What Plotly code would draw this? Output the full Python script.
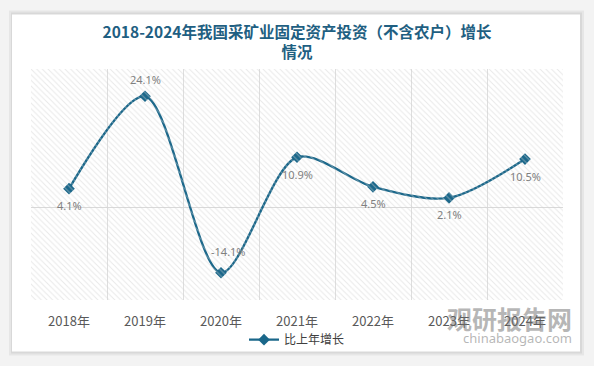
import plotly.graph_objects as go

years = ["2018年", "2019年", "2020年", "2021年", "2022年", "2023年", "2024年"]
growth = [4.1, 24.1, -14.1, 10.9, 4.5, 2.1, 10.5]
label_above = [False, True, True, False, False, False, False]
series_name = "比上年增长"
title_text = "2018-2024年我国采矿业固定资产投资（不含农户）增长<br>情况"

W, H = 594, 366
L, R, T, B = 31, 31, 69, 64
pw, ph = W - L - R, H - T - B

def px_x(x):
    return (x - L) / pw

def px_y(y):
    return (H - B - y) / ph

line_color = "#1a678a"
fig = go.Figure()

# hatch background of the plot area
fig.add_trace(go.Scatter(
    x=[0, 1, 1, 0, 0], y=[0, 0, 1, 1, 0], xaxis="x2", yaxis="y2",
    mode="lines", line=dict(width=0), fill="toself",
    fillcolor="rgba(0,0,0,0)",
    fillpattern=dict(shape="\\", fgcolor="#d2d2d2", bgcolor="rgba(0,0,0,0)",
                     size=4, solidity=0.25, fillmode="overlay"),
    hoverinfo="skip", showlegend=False))

fig.add_trace(go.Scatter(
    x=years, y=growth, name=series_name,
    mode="lines+markers",
    line=dict(color=line_color, width=2.4, shape="spline", smoothing=0.85),
    marker=dict(symbol="diamond", size=9, color=line_color),
    cliponaxis=False))

shapes = [
    dict(type="rect", xref="paper", yref="paper", layer="below",
         x0=px_x(9), x1=px_x(584), y0=px_y(358), y1=px_y(10),
         fillcolor="rgba(0,0,0,0.05)", line=dict(width=0)),
    dict(type="rect", xref="paper", yref="paper", layer="below",
         x0=px_x(11), x1=px_x(582), y0=px_y(356), y1=px_y(12),
         fillcolor="rgba(0,0,0,0.06)", line=dict(width=0)),
    dict(type="rect", xref="paper", yref="paper", layer="below",
         x0=px_x(12), x1=px_x(580), y0=px_y(354), y1=px_y(14),
         fillcolor="white", line=dict(width=0)),
]

annotations = []
for yr, v, above in zip(years, growth, label_above):
    annotations.append(dict(
        x=yr, y=v, xref="x", yref="y", text=f"{v}%", showarrow=False,
        yshift=(17 if above else -17) + (4 if v < 0 else 0),
        xshift=(7 if v < 0 else 0),
        font=dict(family="Noto Sans, sans-serif", size=11, color="#808080")))

annotations += [
    dict(text="<b>观研报告网</b>", xref="paper", yref="paper",
         x=px_x(574), y=px_y(320), xanchor="right", yanchor="middle",
         showarrow=False,
         font=dict(family="Noto Sans CJK SC", size=25, color="rgba(110,110,110,0.5)")),
    dict(text="chinabaogao.com", xref="paper", yref="paper",
         x=px_x(574), y=px_y(340), xanchor="right", yanchor="middle",
         showarrow=False,
         font=dict(family="Noto Sans, sans-serif", size=13, color="rgba(110,110,110,0.5)")),
]

fig.update_layout(
    width=W, height=H,
    margin=dict(l=L, r=R, t=T, b=B),
    paper_bgcolor="#f3f3f3", plot_bgcolor="white",
    title=dict(text=title_text, x=0.5, xanchor="center", y=1 - 38 / H,
               yanchor="top",
               font=dict(family="Noto Sans CJK SC", size=15.5, color="#1f5f82",
                         weight="bold")),
    xaxis=dict(type="category", tickson="boundaries", showgrid=True,
               gridcolor="#dedede", gridwidth=1, showline=False, ticks="",
               ticklabelstandoff=12,
               tickfont=dict(family="Noto Sans CJK SC", size=13, color="#595959"),
               range=[-0.5, 6.5]),
    yaxis=dict(range=[-20, 30], showgrid=False, showticklabels=False,
               zeroline=True, zerolinecolor="#d9d9d9", zerolinewidth=1,
               ticks=""),
    xaxis2=dict(overlaying="x", range=[0, 1], visible=False),
    yaxis2=dict(overlaying="y", range=[0, 1], visible=False),
    legend=dict(orientation="h", x=0.5, xanchor="center",
                y=px_y(342), yanchor="middle",
                font=dict(family="Noto Sans CJK SC", size=12, color="#404040"),
                bgcolor="rgba(0,0,0,0)"),
    shapes=shapes, annotations=annotations,
)

fig.write_html("out.html", config={"displayModeBar": False},
               post_script="document.body.style.margin='0';document.body.style.overflow='hidden';")
